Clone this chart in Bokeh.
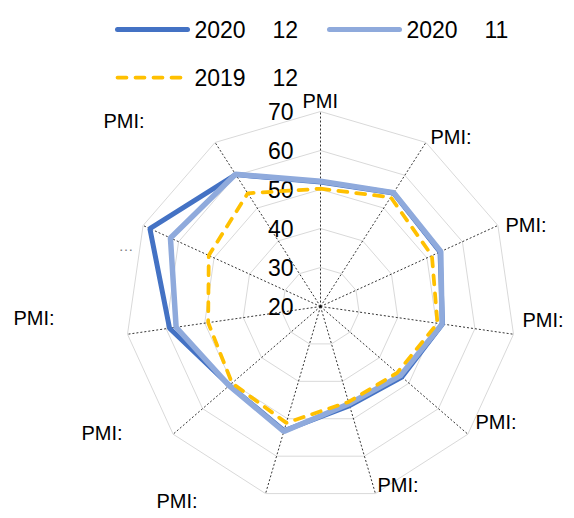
import numpy as np
from bokeh.plotting import figure
from bokeh.models import Range1d
from bokeh.embed import file_html
from bokeh.resources import INLINE
from bokeh.core.properties import value

# ---------------- data ----------------
categories = ["PMI", "PMI:", "PMI:", "PMI:", "PMI:", "PMI:", "PMI:", "PMI:", "PMI:", "\u2026", "PMI:"]
series_2020_12 = [51.9, 54.6, 53.7, 51.6, 47.6, 46.5, 53.2, 50.9, 59.1, 68.1, 60.2]
series_2020_11 = [52.1, 54.7, 53.9, 51.5, 47.1, 46.0, 53.4, 51.0, 57.4, 62.3, 60.3]
series_2019_12 = [50.2, 53.3, 51.4, 50.3, 46.0, 45.5, 51.1, 50.0, 49.1, 51.5, 54.5]
series_years = ["2020", "2020", "2019"]
series_months = ["12", "11", "12"]
radial_ticks = [20, 30, 40, 50, 60, 70]

# ---------------- layout / style ----------------
R_MIN, R_MAX = 20, 70
RADIUS = 195.0
FONT = value("Liberation Sans")
n = len(categories)
angles = np.array([2 * np.pi * i / n for i in range(n)])


def to_xy(vals):
    r = (np.asarray(vals, dtype=float) - R_MIN) / (R_MAX - R_MIN) * RADIUS
    x = r * np.sin(angles)
    y = r * np.cos(angles)
    return list(np.append(x, x[0])), list(np.append(y, y[0]))


p = figure(width=566, height=510, output_backend="svg", toolbar_location=None,
           x_range=Range1d(-320, 246), y_range=Range1d(-204, 306),
           min_border=0, min_border_left=0, min_border_right=0,
           min_border_top=0, min_border_bottom=0)
p.axis.visible = False
p.grid.visible = False
p.outline_line_color = None
p.background_fill_color = "white"
p.border_fill_color = "white"

# rings
for t in radial_ticks[1:]:
    rx, ry = to_xy([t] * n)
    p.line(rx, ry, line_color="#D9D9D9", line_width=1)

# spokes
for a in angles:
    p.line([0, RADIUS * np.sin(a)], [0, RADIUS * np.cos(a)],
           line_color="#000000", line_width=0.8, line_dash="2 2")

# radial tick labels
p.text(x=[-27] * len(radial_ticks),
       y=[(t - R_MIN) / (R_MAX - R_MIN) * RADIUS for t in radial_ticks],
       text=[str(t) for t in radial_ticks], text_font=FONT, text_font_size="23px",
       text_align="right", text_baseline="middle", text_color="#000000")

# series
styles = [
    dict(line_color="#4472C4", line_width=5),
    dict(line_color="#8FAADC", line_width=5.5),
    dict(line_color="#FFC000", line_width=3.75, line_dash="9 9", line_cap="round"),
]
for vals, st in zip([series_2020_12, series_2020_11, series_2019_12], styles):
    sx, sy = to_xy(vals)
    p.line(sx, sy, **st)

# category labels (left x, centre y in px from chart centre)
label_x = [-18, 110, 185, 202, 155, 57, -164, -239, -307, -202, -217]
label_y = [206, 169.5, 82, -13, -115, -178, -194, -126, -11, 58, 186]
main_idx = [i for i in range(n) if categories[i] != "\u2026"]
p.text(x=[label_x[i] for i in main_idx], y=[label_y[i] for i in main_idx],
       text=[categories[i] for i in main_idx], text_font=FONT, text_font_size="20px",
       text_align="left", text_baseline="middle", text_color="#000000")
dot_idx = [i for i in range(n) if categories[i] == "\u2026"]
p.text(x=[label_x[i] for i in dot_idx], y=[label_y[i] + 3 for i in dot_idx],
       text=[categories[i] for i in dot_idx], text_font=FONT, text_font_size="15px",
       text_align="left", text_baseline="middle", text_color="#7F7F7F")

# legend
leg_pos = [(-203, 277), (9, 277), (-203, 229)]
leg_styles = [
    dict(line_color="#4472C4", line_width=5, line_cap="round"),
    dict(line_color="#8FAADC", line_width=5, line_cap="round"),
    dict(line_color="#FFC000", line_width=3.75, line_dash="9 9", line_cap="round"),
]
for (lx, ly), st, yr, mo in zip(leg_pos, leg_styles, series_years, series_months):
    p.line([lx, lx + 70], [ly, ly], **st)
    p.text(x=[lx + 77, lx + 155], y=[ly, ly], text=[yr, mo], text_font=FONT,
           text_font_size="23px", text_align="left", text_baseline="middle",
           text_color="#000000")

open("out.html", "w").write(file_html(p, INLINE))
